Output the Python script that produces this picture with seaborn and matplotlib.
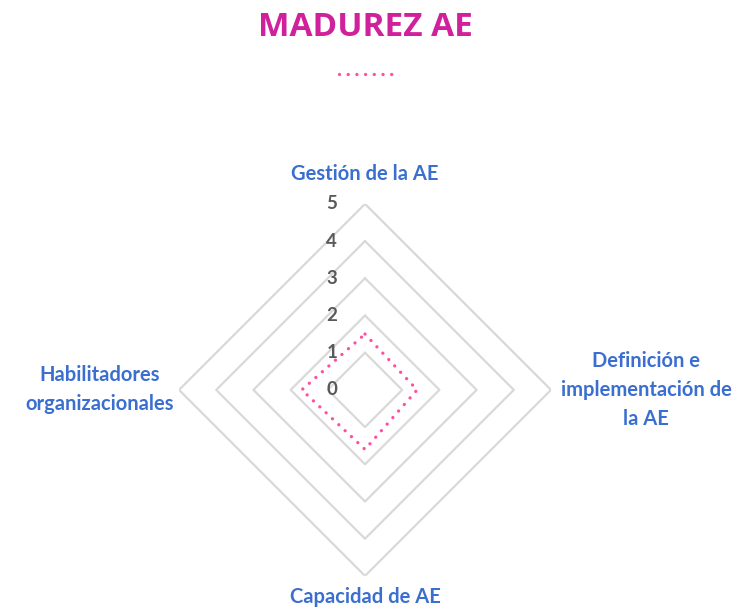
import numpy as np
import matplotlib
matplotlib.use("Agg")
import matplotlib.pyplot as plt
import seaborn as sns

## data
categories = ["Gestión de la AE", "Definición e\nimplementación de\nla AE",
              "Capacidad de AE", "Habilitadores\norganizacionales"]
values = [1.5, 1.4, 1.6, 1.7]
levels = [0, 1, 2, 3, 4, 5]

sns.set_style("white")
plt.rcParams['font.family'] = ['Lato', 'DejaVu Sans']

pink = "#FF4FA3"
blue = "#3A6FD0"
grey = "#D9D9D9"

fig = plt.figure(figsize=(7.41, 6.14), dpi=100)
ax = fig.add_axes([0.2416, 0.062, 0.502, 0.606], projection="polar")
ax.set_theta_offset(np.pi / 2)
ax.set_theta_direction(-1)

n = len(categories)
angles = np.linspace(0, 2 * np.pi, n, endpoint=False)
closed = np.append(angles, angles[0])

# diamond gridlines
for lv in levels[1:]:
    ax.plot(closed, [lv] * (n + 1), color=grey, lw=1.6, zorder=1)

# series (round dots)
vals = values + values[:1]
line, = ax.plot(closed, vals, color=pink, lw=2.4, ls=(0, (0.01, 2.6)),
                dash_capstyle="round", zorder=3)

ax.set_ylim(0, 5)
ax.grid(False)
ax.spines["polar"].set_visible(False)
ax.set_xticks([])
ax.set_yticks([])

# radial tick labels
for lv in levels:
    ax.annotate(str(lv), xy=(0, lv), xytext=(-24, 0), textcoords="offset points",
                ha="center", va="center", fontsize=13.5, fontweight="bold",
                color="#595959", zorder=4)

# category labels
offsets = [(0, 14, "center", "bottom"), (7, 0, "left", "center"),
           (0, -8, "center", "top"), (-4, 0, "right", "center")]
for ang, lab, (dx, dy, ha, va) in zip(angles, categories, offsets):
    ax.annotate(lab, xy=(ang, 5), xytext=(dx, dy), textcoords="offset points",
                ha=ha, va=va, multialignment="center", fontsize=14.5,
                fontweight="bold", color=blue, linespacing=1.55,
                annotation_clip=False)

fig.text(0.4925, 0.955, "MADUREZ AE", ha="center", va="center",
         fontsize=24, fontweight="bold", color="#D1209C", family="Open Sans")

fig.legend([line], [""], loc="center", bbox_to_anchor=(0.494, 0.878),
           frameon=False, handlelength=3.9, handletextpad=0, borderpad=0)

fig.savefig("out.png", dpi=100)
